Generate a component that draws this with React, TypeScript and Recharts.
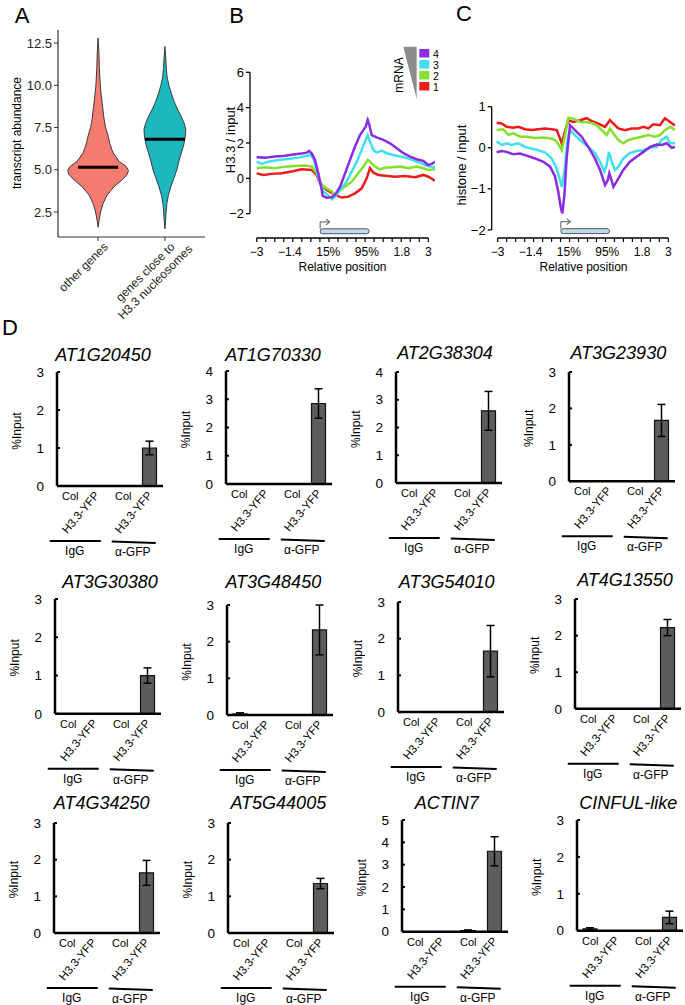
import React from "react";
import {
  ScatterChart, Scatter, LineChart, Line, BarChart, Bar, ErrorBar,
  XAxis, YAxis, ReferenceLine, ReferenceArea, ReferenceDot,
} from "recharts";

const FONT = '"Liberation Sans", Arial, Helvetica, sans-serif';

// ---------- A: violin plot of transcript abundance
const A_TICKS = [2.5, 5, 7.5, 10, 12.5];
const A_GROUPS = [["other genes"], ["genes close to", "H3.3 nucleosomes"]];
const A_OTHER_LEVELS = [1.6, 2.0, 2.5, 3.0, 3.5, 4.0, 4.4, 4.7, 4.95, 5.2, 5.5, 6.0, 6.5, 7.0, 7.5, 8.0, 8.5, 9.0, 9.5, 10.0, 11.0, 12.0, 12.8];
const A_OTHER_DENSITY = [0, 1, 2.5, 5, 9, 16, 24, 29, 30.5, 28, 21, 15, 12, 10, 7.5, 6, 5, 4, 3, 2.2, 1.3, 0.8, 0];
const A_CLOSE_LEVELS = [1.5, 2.0, 2.5, 3.0, 3.5, 4.0, 4.5, 5.0, 5.5, 6.0, 6.5, 7.0, 7.4, 7.8, 8.2, 8.6, 9.0, 9.5, 10.0, 10.5, 11.0, 11.5, 12.3];
const A_CLOSE_DENSITY = [0, 0.7, 1.2, 2, 3.5, 6, 9, 12, 14, 16.5, 19, 20.5, 21, 19, 16, 12.5, 9.5, 6.5, 4, 2.2, 1.4, 1, 0];
const A_MEDIANS = [5.15, 6.8];
const A_FILLS = ["#f37b70", "#1db7be"];
const VIOLIN_SCALE = 1 / 67;

// ---------- B / C: profiles along genes (position in % of the -3kb..+3kb axis)
const POS_TICK_VALUES = [0, 19.3, 41.7, 64.2, 84.6, 100];
const POS_TICK_LABELS = ["−3", "−1.4", "15%", "95%", "1.8", "3"];
const POS_MINOR = Array.from({ length: 20 }, (_, i) => (i * 100) / 19);
const POS_ALL = Array.from(new Set([...POS_MINOR, ...POS_TICK_VALUES])).sort((a, b) => a - b);
const MRNA_COLORS = ["#ee1b1b", "#84e02a", "#3ee0ee", "#8a2be6"]; // 1..4
const MRNA_LEVELS = ["1", "2", "3", "4"];

const B_RED = [[0, 0.28], [3.9, 0.19], [8.7, 0.25], [14.6, 0.28], [20.4, 0.38], [26.2, 0.51], [32.1, 0.47], [35.0, 0.19], [36.9, -0.28], [40.8, -0.66], [45.6, -0.94], [49.5, -1.09], [53.4, -1.04], [57.3, -0.85], [61.2, -0.57], [64.1, 0.0], [66.0, 0.57], [68.0, 0.32], [70.9, 0.19], [74.8, 0.15], [80.6, 0.09], [86.4, 0.13], [92.3, 0.06], [97.1, 0.19], [100.0, 0.09], [103.9, -0.13]];
const B_GREEN = [[0, 0.57], [4.9, 0.62], [10.7, 0.57], [16.5, 0.66], [22.3, 0.7], [28.2, 0.72], [32.1, 0.66], [35.0, 0.28], [37.9, -0.38], [40.8, -0.57], [43.7, -0.75], [45.6, -0.94], [47.6, -0.75], [51.5, -0.47], [55.4, -0.19], [59.2, 0.28], [62.2, 0.66], [64.7, 1.04], [66.0, 0.94], [69.0, 0.66], [71.9, 0.51], [74.8, 0.6], [78.7, 0.62], [83.5, 0.66], [88.4, 0.57], [93.2, 0.66], [97.1, 0.57], [100.0, 0.47], [103.9, 0.51]];
const B_CYAN = [[0, 0.94], [2.9, 0.81], [6.8, 0.94], [12.6, 1.04], [18.5, 1.09], [24.3, 1.17], [29.1, 1.26], [31.1, 1.32], [33.0, 1.13], [35.0, 0.47], [36.9, -0.28], [38.9, -0.75], [41.8, -0.98], [44.1, -1.19], [45.6, -1.04], [48.6, -0.66], [52.4, -0.19], [55.4, 0.38], [58.3, 0.94], [60.8, 1.51], [63.1, 2.08], [64.7, 2.45], [66.0, 2.08], [68.0, 1.6], [69.9, 1.45], [72.8, 1.57], [75.8, 1.42], [79.6, 1.32], [83.5, 1.23], [88.4, 1.13], [93.2, 0.94], [98.1, 0.75], [101.0, 0.66], [103.9, 0.62]];
const B_PURPLE = [[0, 1.19], [4.9, 1.17], [10.7, 1.23], [16.5, 1.28], [22.3, 1.36], [26.2, 1.4], [29.1, 1.45], [30.5, 1.55], [32.1, 1.4], [34.0, 1.04], [35.9, 0.28], [37.5, -0.47], [38.5, -1.0], [40.8, -1.1], [43.7, -1.07], [45.6, -0.94], [48.6, -0.47], [51.5, 0.28], [54.4, 1.04], [57.3, 1.8], [60.2, 2.45], [62.2, 2.74], [63.5, 2.92], [64.7, 3.3], [65.7, 3.0], [67.0, 2.45], [69.9, 2.32], [73.8, 2.17], [77.7, 1.98], [81.6, 1.7], [85.5, 1.42], [89.4, 1.23], [93.2, 1.08], [97.1, 0.98], [100.0, 0.75], [102.0, 0.81], [103.9, 0.94]];

const C_RED = [[-0.6, 0.61], [2.3, 0.59], [5.3, 0.51], [9.2, 0.49], [12.1, 0.51], [16.0, 0.45], [19.9, 0.43], [23.8, 0.45], [27.7, 0.47], [31.6, 0.45], [34.6, 0.43], [36.5, 0.23], [37.5, 0.11], [39.1, 0.35], [41.4, 0.67], [44.3, 0.63], [48.2, 0.67], [52.1, 0.72], [55.1, 0.65], [59.0, 0.59], [62.9, 0.51], [65.8, 0.67], [67.8, 0.59], [70.7, 0.47], [74.6, 0.43], [78.5, 0.47], [82.4, 0.47], [85.4, 0.51], [88.3, 0.47], [91.2, 0.57], [95.1, 0.55], [98.0, 0.72], [101.0, 0.63], [103.9, 0.54]];
const C_GREEN = [[-0.6, 0.43], [3.3, 0.45], [6.3, 0.31], [9.2, 0.35], [13.1, 0.27], [17.0, 0.27], [21.9, 0.24], [26.8, 0.25], [30.7, 0.23], [33.6, 0.19], [35.9, 0.07], [37.5, -0.06], [39.5, 0.31], [41.4, 0.73], [44.3, 0.71], [48.2, 0.63], [52.1, 0.62], [56.1, 0.59], [59.0, 0.51], [61.9, 0.39], [63.9, 0.31], [65.8, 0.47], [67.8, 0.35], [70.7, 0.19], [73.6, 0.11], [76.6, 0.19], [80.5, 0.23], [84.4, 0.27], [88.3, 0.31], [92.2, 0.27], [95.1, 0.31], [98.0, 0.43], [101.0, 0.51], [103.9, 0.43]];
const C_CYAN = [[-0.6, 0.16], [2.3, 0.07], [5.3, 0.11], [8.2, 0.07], [12.1, 0.11], [16.0, 0.02], [19.9, -0.02], [23.8, -0.06], [27.7, -0.11], [31.6, -0.26], [34.6, -0.5], [36.5, -0.79], [37.5, -0.95], [39.1, -0.58], [41.0, 0.23], [42.4, 0.43], [45.3, 0.31], [49.2, 0.15], [53.1, 0.02], [57.0, -0.13], [60.0, -0.34], [62.5, -0.58], [63.9, -0.42], [65.2, -0.1], [66.8, -0.34], [68.8, -0.54], [70.7, -0.46], [73.6, -0.26], [77.5, -0.13], [81.4, -0.08], [85.4, -0.06], [89.3, 0.0], [93.2, 0.02], [96.1, 0.19], [99.0, 0.27], [101.0, 0.11], [103.9, 0.11]];
const C_PURPLE = [[-0.6, -0.11], [2.3, -0.08], [5.3, -0.1], [9.2, -0.16], [13.1, -0.14], [17.0, -0.19], [21.9, -0.26], [26.8, -0.34], [30.7, -0.46], [33.6, -0.7], [35.5, -1.07], [37.1, -1.48], [37.9, -1.6], [39.1, -1.15], [40.4, -0.26], [42.4, 0.55], [45.3, 0.43], [49.2, 0.27], [53.1, 0.02], [57.0, -0.26], [60.0, -0.54], [62.9, -0.91], [64.5, -0.79], [65.4, -0.62], [66.8, -0.8], [67.8, -0.95], [70.7, -0.75], [73.6, -0.54], [77.5, -0.34], [81.4, -0.22], [85.4, -0.1], [89.3, 0.02], [93.2, 0.08], [96.1, 0.07], [99.0, 0.11], [102.0, 0.0], [103.9, 0.02]];

const GENE_START = 37;
const GENE_END = 65.5;
const ARROW_END = 42.5;

// ---------- D: ChIP-qPCR
const D_GENES = ["AT1G20450", "AT1G70330", "AT2G38304", "AT3G23930", "AT3G30380", "AT3G48450", "AT3G54010", "AT4G13550", "AT4G34250", "AT5G44005", "ACTIN7", "CINFUL-like"];
const D_SAMPLES = ["Col", "H3.3-YFP", "Col", "H3.3-YFP"];
const D_ANTIBODIES = ["IgG", "α-GFP"];
const D_VALUES = [
  [0, 0, 0, 1.0], [0, 0, 0, 2.85], [0, 0, 0, 2.6], [0, 0, 0, 1.67],
  [0, 0, 0, 1.0], [0.03, 0, 0, 2.32], [0, 0, 0, 1.66], [0, 0, 0, 2.22],
  [0, 0, 0, 1.64], [0, 0, 0, 1.35], [0, 0, 0.05, 3.6], [0.05, 0, 0, 0.36],
];
const D_ERRORS = [
  [0, 0, 0, 0.18], [0, 0, 0, 0.52], [0, 0, 0, 0.7], [0, 0, 0, 0.44],
  [0, 0, 0, 0.2], [0.03, 0, 0, 0.68], [0, 0, 0, 0.7], [0, 0, 0, 0.22],
  [0, 0, 0, 0.34], [0, 0, 0, 0.14], [0, 0, 0.03, 0.65], [0.03, 0, 0, 0.17],
];
const D_YMAX = [3, 4, 4, 3, 3, 3, 3, 3, 3, 3, 5, 3];

// panel placement (axis x, plot top / bottom, title centre)
const D_LAYOUT = [
  { x: 56.7, top: 372, bottom: 486, tx: 103, ty: 355 },
  { x: 226, top: 371, bottom: 484, tx: 273, ty: 355 },
  { x: 396, top: 371.7, bottom: 482.7, tx: 445, ty: 353 },
  { x: 569.3, top: 371.7, bottom: 481, tx: 618.3, ty: 353 },
  { x: 55, top: 598.5, bottom: 713.3, tx: 110, ty: 581.7 },
  { x: 226.7, top: 605, bottom: 715, tx: 273.3, ty: 581.7 },
  { x: 398.3, top: 601.6, bottom: 711.7, tx: 446.7, ty: 581.7 },
  { x: 575, top: 598.5, bottom: 708.3, tx: 625, ty: 580 },
  { x: 54, top: 822.7, bottom: 932.7, tx: 101.7, ty: 803.3 },
  { x: 227.7, top: 822.7, bottom: 932.7, tx: 278.3, ty: 803.3 },
  { x: 401.7, top: 820, bottom: 931.7, tx: 446.7, ty: 803.3 },
  { x: 577.3, top: 820, bottom: 930.7, tx: 628.3, ty: 803.3 },
];
const D_YW = 56;
const D_GAP = 13;
const D_PLOT_W = 106;

const fmtMinus = (v: number) => (v < 0 ? `−${Math.abs(v)}` : `${v}`);

function violin(center: number, levels: number[], dens: number[]) {
  const right = levels.map((y, i) => ({ x: center + dens[i] * VIOLIN_SCALE, y }));
  const left = levels.map((y, i) => ({ x: center - dens[i] * VIOLIN_SCALE, y })).reverse();
  return [...right, ...left];
}

function NoPoint() {
  return <g />;
}

function GroupLabelTick(props: any) {
  const { x, y, payload } = props;
  const lines = A_GROUPS[payload.value === 1 ? 0 : 1];
  return (
    <g transform={`translate(${x},${y - 4}) rotate(-45)`}>
      {lines.map((s, i) => (
        <text key={i} x={i * 11} y={11 + i * 14} textAnchor="end" dominantBaseline="central" fontSize={12} fill="#222">
          {s}
        </text>
      ))}
    </g>
  );
}

function ViolinPanel() {
  const medianHalf = 0.3;
  return (
    <div style={{ position: "absolute", left: 0, top: 0 }}>
      <ScatterChart width={230} height={330} margin={{ top: 30, right: 25, bottom: 0, left: 0 }}>
        <XAxis type="number" dataKey="x" domain={[0.4, 2.6]} ticks={[1, 2]} interval={0} allowDataOverflow
          height={93} axisLine={{ stroke: "#333", strokeWidth: 1.2 }} tickLine={{ stroke: "#333" }}
          tickSize={4} tickMargin={0} tick={<GroupLabelTick />} />
        <YAxis type="number" dataKey="y" domain={[1.02, 13.27]} ticks={A_TICKS} interval={0} allowDataOverflow width={58}
          axisLine={{ stroke: "#333", strokeWidth: 1.2 }} tickLine={{ stroke: "#333" }} tickSize={4} tickMargin={2}
          tick={{ fontSize: 13, fill: "#222" }} tickFormatter={(v: number) => v.toFixed(1)} />
        <Scatter data={violin(1, A_OTHER_LEVELS, A_OTHER_DENSITY)} line={{ stroke: "#3a3a3a", strokeWidth: 1, fill: A_FILLS[0] }}
          shape={NoPoint} isAnimationActive={false} />
        <Scatter data={violin(2, A_CLOSE_LEVELS, A_CLOSE_DENSITY)} line={{ stroke: "#3a3a3a", strokeWidth: 1, fill: A_FILLS[1] }}
          shape={NoPoint} isAnimationActive={false} />
        {A_MEDIANS.map((m, i) => (
          <Scatter key={i} data={[{ x: i + 1 - medianHalf, y: m }, { x: i + 1 + medianHalf, y: m }]}
            line={{ stroke: "#000", strokeWidth: 3 }} shape={NoPoint} isAnimationActive={false} />
        ))}
      </ScatterChart>
    </div>
  );
}

function PositionTick(props: any) {
  const { x, y, payload } = props;
  const v = payload.value;
  const minor = POS_MINOR.some((m) => Math.abs(m - v) < 1e-6);
  const li = POS_TICK_VALUES.findIndex((t) => Math.abs(t - v) < 1e-6);
  return (
    <g>
      {minor && <line x1={x} x2={x} y1={y} y2={y + 4} stroke="#000" strokeWidth={1.2} />}
      {li >= 0 && (
        <text x={x} y={y + 14} dy="0.35em" textAnchor="middle" fontSize={12} fill="#000">
          {POS_TICK_LABELS[li]}
        </text>
      )}
    </g>
  );
}

function GeneBox(p: any) {
  return <rect x={p.x} y={p.y} width={p.width} height={p.height} rx={2.5} fill="#bcdcea" stroke="#555" strokeWidth={1} />;
}

function ArrowHead(p: any) {
  return <path d={`M${p.cx - 3.5},${p.cy - 3}L${p.cx},${p.cy}L${p.cx - 3.5},${p.cy + 3}`} fill="none" stroke="#666" strokeWidth={1.1} />;
}

type ProfileProps = {
  left: number; top: number; width: number; height: number; marginTop: number; yWidth: number;
  xMin: number; yDomain: [number, number]; yTicks: number[]; yTop: number; yBottom: number;
  box: [number, number]; arrowY: number; series: number[][][];
};

function ProfilePanel(props: ProfileProps) {
  const { left, top, width, height, marginTop, yWidth, xMin, yDomain, yTicks, yTop, yBottom, box, arrowY, series } = props;
  return (
    <div style={{ position: "absolute", left, top }}>
      <LineChart width={width} height={height} margin={{ top: marginTop, right: 10, bottom: 0, left: 0 }}>
        <XAxis type="number" dataKey="p" domain={[xMin, 103.9]} ticks={POS_ALL} interval={0} allowDataOverflow
          axisLine={false} tickLine={false} tickSize={0} tickMargin={0} height={42} tick={<PositionTick />} />
        <YAxis type="number" domain={yDomain} ticks={yTicks} interval={0} allowDataOverflow width={yWidth} axisLine={false}
          tickLine={{ stroke: "#000", strokeWidth: 1.3 }} tickSize={4} tickMargin={2}
          tick={{ fontSize: 13, fill: "#000" }} tickFormatter={fmtMinus} />
        <ReferenceLine segment={[{ x: xMin, y: yBottom }, { x: xMin, y: yTop }]} stroke="#000" strokeWidth={1.3} ifOverflow="visible" />
        <ReferenceLine segment={[{ x: 0, y: yDomain[0] }, { x: 100, y: yDomain[0] }]} stroke="#000" strokeWidth={1.3} ifOverflow="visible" />
        <ReferenceArea x1={GENE_START} x2={GENE_END} y1={box[0]} y2={box[1]} ifOverflow="visible" shape={GeneBox} />
        <ReferenceLine segment={[{ x: GENE_START, y: box[1] }, { x: GENE_START, y: arrowY }]} stroke="#666" strokeWidth={1.1} ifOverflow="visible" />
        <ReferenceLine segment={[{ x: GENE_START, y: arrowY }, { x: ARROW_END, y: arrowY }]} stroke="#666" strokeWidth={1.1} ifOverflow="visible" />
        <ReferenceDot x={ARROW_END} y={arrowY} ifOverflow="visible" shape={ArrowHead} />
        {series.map((pts, i) => (
          <Line key={i} data={pts.map(([p, v]) => ({ p, v }))} dataKey="v" type="linear" stroke={MRNA_COLORS[i]}
            strokeWidth={2.5} dot={false} activeDot={false} isAnimationActive={false} />
        ))}
      </LineChart>
    </div>
  );
}

function SampleTick(props: any) {
  const { x, y } = props;
  const index: number = props.index ?? props.payload?.index ?? 0;
  const label = D_SAMPLES[index];
  if (index % 2 === 0) {
    return (
      <text x={x} y={y + 10} dy="0.35em" textAnchor="middle" fontSize={11} fill="#000">{label}</text>
    );
  }
  const first = index === 1;
  const group = D_ANTIBODIES[first ? 0 : 1];
  return (
    <g>
      <text x={x} y={y + 7} dy="0.35em" textAnchor="end" fontSize={11.5} fill="#000" transform={`rotate(-50 ${x} ${y + 7})`}>
        {label}
      </text>
      {first ? (
        <line x1={x - 47} x2={x + 4} y1={y + 55} y2={y + 55} stroke="#000" strokeWidth={2} />
      ) : (
        <line x1={x - 38} x2={x + 6} y1={y + 55.5} y2={y + 57} stroke="#000" strokeWidth={2} />
      )}
      <text x={first ? x - 22 : x - 17} y={first ? y + 65 : y + 66} dy="0.35em" textAnchor="middle" fontSize={12} fill="#000">
        {group}
      </text>
    </g>
  );
}

function PercentTick(props: any) {
  const { x, y, payload } = props;
  return (
    <g>
      <text x={x} y={y} dy="0.35em" textAnchor="end" fontSize={13.5} fill="#000">{payload.value}</text>
      <line x1={x + D_GAP} x2={x + D_GAP + 3} y1={y} y2={y} stroke="#000" strokeWidth={2} />
    </g>
  );
}

function QpcrPanel({ i }: { i: number }) {
  const L = D_LAYOUT[i];
  const max = D_YMAX[i];
  const rows = D_VALUES[i].map((v, j) => ({ k: j, v, e: D_ERRORS[i][j] }));
  const ticks = Array.from({ length: max + 1 }, (_, t) => t);
  const plotH = L.bottom - L.top;
  return (
    <div style={{ position: "absolute", left: L.x - D_YW, top: L.top - 10 }}>
      <BarChart width={D_YW + D_PLOT_W + 12} height={10 + plotH + 75} data={rows}
        margin={{ top: 10, right: 12, bottom: 0, left: 0 }} barSize={14}>
        <XAxis dataKey="k" type="category" height={75} interval={0} axisLine={{ stroke: "#000", strokeWidth: 2.5 }}
          tickLine={false} tickSize={0} tickMargin={0} tick={<SampleTick />} />
        <YAxis type="number" domain={[0, max]} ticks={ticks} interval={0} allowDataOverflow width={D_YW}
          axisLine={{ stroke: "#000", strokeWidth: 2.5 }} tickLine={false} tickSize={0} tickMargin={D_GAP}
          tick={<PercentTick />} />
        <Bar dataKey="v" fill="#5d5d5d" stroke="#111" strokeWidth={1.2} isAnimationActive={false}>
          <ErrorBar dataKey="e" width={4} stroke="#000" strokeWidth={1.5} />
        </Bar>
      </BarChart>
    </div>
  );
}

function T(props: { x: number; y: number; size: number; rotate?: number; italic?: boolean; children: React.ReactNode }) {
  const { x, y, size, rotate, italic, children } = props;
  return (
    <text x={x} y={y} fontSize={size} textAnchor="middle" dominantBaseline="central" fill="#000"
      fontStyle={italic ? "italic" : "normal"} transform={rotate ? `rotate(${rotate} ${x} ${y})` : undefined}>
      {children}
    </text>
  );
}

export default function App() {
  return (
    <div style={{ position: "absolute", left: 0, top: 0, width: 685, height: 1005, background: "#fff", overflow: "hidden", fontFamily: FONT }}>
      <ViolinPanel />
      <ProfilePanel left={220} top={40} width={225} height={240} marginTop={32.3} yWidth={30} xMin={-3.9}
        yDomain={[-3.38, 6]} yTicks={[-2, 0, 2, 4, 6]} yTop={6} yBottom={-2} box={[-3.14, -2.86]} arrowY={-2.47}
        series={[B_RED, B_GREEN, B_CYAN, B_PURPLE]} />
      <ProfilePanel left={455} top={60} width={230} height={220} marginTop={46.7} yWidth={36.7} xMin={-3.5}
        yDomain={[-2.197, 1]} yTicks={[-2, -1, 0, 1]} yTop={1} yBottom={-2} box={[-2.09, -1.97]} arrowY={-1.8}
        series={[C_RED, C_GREEN, C_CYAN, C_PURPLE]} />
      {D_GENES.map((_, i) => (
        <QpcrPanel key={i} i={i} />
      ))}
      <svg width={685} height={1005} style={{ position: "absolute", left: 0, top: 0, pointerEvents: "none", fontFamily: FONT }}>
        <T x={22} y={15} size={22}>A</T>
        <T x={236.5} y={15} size={22}>B</T>
        <T x={464} y={13} size={22}>C</T>
        <T x={10} y={327} size={22}>D</T>
        <T x={16.7} y={133} size={12} rotate={-90}>transcript abundance</T>
        <T x={230} y={140} size={13} rotate={-90}>H3.3 / input</T>
        <T x={461.7} y={165} size={13} rotate={-90}>histone / input</T>
        <T x={342.5} y={267} size={12}>Relative position</T>
        <T x={583.5} y={267} size={12}>Relative position</T>
        <polygon points="403.3,46.7 416.7,46.7 416.7,99" fill="#8c8c8c" />
        <T x={398.5} y={75} size={12} rotate={-90}>mRNA</T>
        {[3, 2, 1, 0].map((ci, r) => (
          <g key={ci}>
            <rect x={419.3} y={49 + 11 * r} width={10} height={8.5} fill={MRNA_COLORS[ci]} />
            <T x={436} y={53.5 + 11 * r} size={10.5}>{MRNA_LEVELS[ci]}</T>
          </g>
        ))}
        {D_LAYOUT.map((L, i) => (
          <g key={i}>
            <T x={L.tx} y={L.ty} size={18} italic>{D_GENES[i]}</T>
            <T x={L.x - 40} y={(L.top + L.bottom) / 2 + 2} size={12} rotate={-90}>%Input</T>
          </g>
        ))}
      </svg>
    </div>
  );
}
